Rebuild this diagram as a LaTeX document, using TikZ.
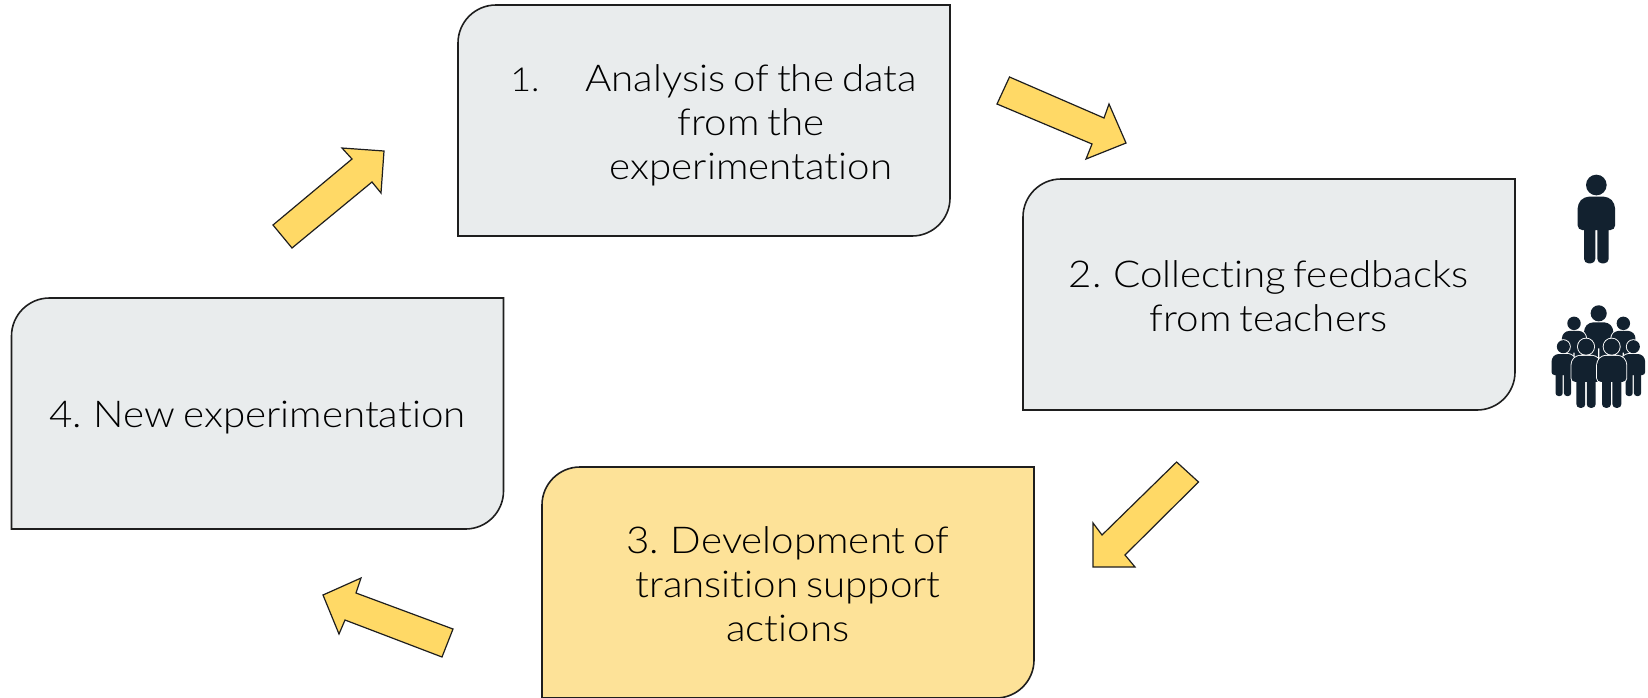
\documentclass[tikz,border=0pt]{standalone}
\usepackage{fontspec}
\setmainfont{Lato}[UprightFont=* Light,FakeStretch=1.09,Ligatures=NoCommon,WordSpace=0.72]
\definecolor{boxgrey}{HTML}{E9ECED}
\definecolor{boxyellow}{HTML}{FDE298}
\definecolor{arrowyellow}{HTML}{FFD966}
\definecolor{iconblue}{HTML}{12212F}
\definecolor{edgeink}{HTML}{1E1E1E}
\newcommand{\diagbox}[5]{% x1 y1 x2 y2 colour
  \fill[#5] (#1+38,#2) -- (#3,#2) -- (#3,#4-38) arc[start angle=0,end angle=90,radius=38] -- (#1,#4) -- (#1,#2+38) arc[start angle=180,end angle=270,radius=38] -- cycle;
  \draw[boxline] (#1+38,#2) -- (#3,#2) -- (#3,#4-38) arc[start angle=0,end angle=90,radius=38] -- (#1,#4) -- (#1,#2+38) arc[start angle=180,end angle=270,radius=38] -- cycle;}
\newcommand{\personshape}{%
  (0,0) circle[radius=31]
  [rounded corners=\iconr] (-36,35) -- (36,35) -- (56,56) -- (56,135) -- (-56,135) -- (-56,56) -- cycle
  (-37,110) -- (-3,110) -- (-3,235) -- (-37,235) -- cycle
  (3,110) -- (37,110) -- (37,235) -- (3,235) -- cycle}
\newcommand{\personicon}[3]{% x y scale, local units are zoom pixels
  \pgfmathsetlengthmacro{\iconr}{#3*4.5pt}
  \begin{scope}[shift={(1500+#1/3,150+#2/3)},scale=#3/3]
    \path[draw=white,line width=1.8pt] \personshape;
    \fill[iconblue,nonzero rule] \personshape;
  \end{scope}}
\tikzset{
  boxline/.style={draw=edgeink,line width=1.6pt,line join=miter},
  blockarrow/.style={draw=edgeink,fill=arrowyellow,line width=1.2pt,line join=miter},
  boxtext/.style={align=center,text=black,inner sep=0pt,font=\fontsize{37}{44}\selectfont}
}
\begin{document}
\begin{tikzpicture}[x=1pt,y=-1pt]
\useasboundingbox (0,0) rectangle (1648,697);
\begin{scope}
\clip (0,0) rectangle (1648,697);
\diagbox{458}{5}{950}{236}{boxgrey}
\diagbox{1023}{179}{1515}{410}{boxgrey}
\diagbox{542}{467}{1034}{698}{boxyellow}
\diagbox{11.5}{298}{503.5}{529}{boxgrey}
\end{scope}
\node[boxtext] (t1) at (751,125) {Analysis of the data\\from the\\experimentation};
\node[boxtext,font=\fontsize{33}{44}\selectfont] (n1) at (525,80) {1.};
\node[boxtext] (t2) at (1268.5,296) {2. Collecting feedbacks\\from teachers};
\node[boxtext] (t3) at (788,584) {3. Development of\\transition support\\actions};
\node[boxtext] (t4) at (257.5,418) {4. New experimentation};
% block arrows
\draw[blockarrow] (273,225) -- (292,248) -- (372,182) -- (381,193) -- (384,151) -- (342,148) -- (352,159) -- cycle;
\draw[blockarrow] (1009.5,77) -- (997,104) -- (1092,144) -- (1086,159) -- (1126,143) -- (1109,104) -- (1104,118) -- cycle;
\draw[blockarrow] (1176.6,462) -- (1198.5,482) -- (1125,555) -- (1135,567) -- (1093,567) -- (1093,523) -- (1102,535) -- cycle;
\draw[blockarrow] (453,629) -- (442,657) -- (345,620) -- (339,634) -- (323,595) -- (361,578) -- (356,593) -- cycle;
% single person
\personicon{289}{105}{1}
% group
\personicon{296}{490}{.78}
\personicon{222}{520}{.65}
\personicon{370}{520}{.65}
\personicon{190}{590}{.63}
\personicon{400}{590}{.63}
\personicon{258}{590}{.78}
\personicon{335}{590}{.78}
\end{tikzpicture}
\end{document}
